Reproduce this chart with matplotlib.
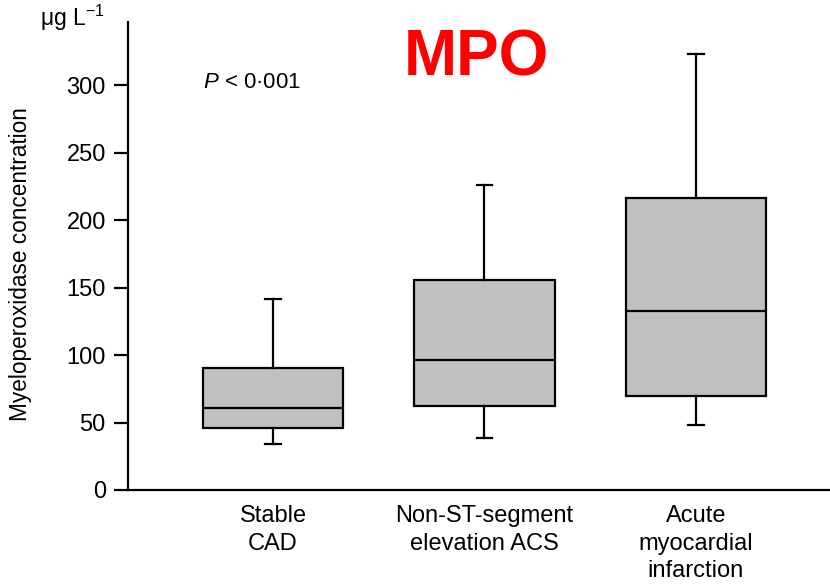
import matplotlib
matplotlib.use("Agg")
import matplotlib.pyplot as plt

plt.rcParams['font.family'] = ['Liberation Sans', 'DejaVu Sans']
plt.rcParams['mathtext.fontset'] = 'custom'
plt.rcParams['mathtext.rm'] = 'Liberation Sans'
plt.rcParams['mathtext.it'] = 'Liberation Sans:italic'

categories = ["Stable\nCAD", "Non-ST-segment\nelevation ACS", "Acute\nmyocardial\ninfarction"]
whisker_low = [34, 38.5, 48]
q1 = [46, 62, 70]
median = [60.5, 96.5, 133]
q3 = [90.5, 155.5, 216.5]
whisker_high = [141.5, 226, 323.5]
yticks = [0, 50, 100, 150, 200, 250, 300]

stats = []
for i, c in enumerate(categories):
    stats.append(dict(label=c, whislo=whisker_low[i], q1=q1[i], med=median[i],
                      q3=q3[i], whishi=whisker_high[i], fliers=[]))

fig = plt.figure(figsize=(8.3, 5.84), dpi=100)
ax = fig.add_axes([128/830, 1-490/584, 1-128/830, (490-22)/584])

lw = 1.6
ax.bxp(stats, positions=[1, 2, 3], widths=0.665, patch_artist=True,
       showfliers=False,
       boxprops=dict(facecolor='#c0c0c0', edgecolor='black', linewidth=lw),
       medianprops=dict(color='black', linewidth=lw),
       whiskerprops=dict(color='black', linewidth=lw),
       capprops=dict(color='black', linewidth=lw),
       capwidths=0.072)

ax.set_xlim(0.314, 3.634)
ax.set_ylim(0, 347)
ax.set_yticks(yticks)
ax.spines['top'].set_visible(False)
ax.spines['right'].set_visible(False)
ax.spines['left'].set_linewidth(lw)
ax.spines['bottom'].set_linewidth(lw)
ax.tick_params(axis='y', direction='out', length=10, width=lw, labelsize=17, pad=6)
ax.tick_params(axis='x', length=0, labelsize=17, pad=11)
for t in ax.get_xticklabels():
    t.set_linespacing(1.32)

fig.text(21/830, 1-264/584, "Myeloperoxidase concentration", fontsize=16.3,
         rotation=90, ha='center', va='center')
fig.text(40/830, 1-18/584, r'μg L$^{-1}$', fontsize=16.5, ha='left', va='center')
fig.text(203/830, 1-82/584, r'$\mathit{P}$ < 0·001', fontsize=16, ha='left', va='center')
fig.text(476/830, 1-58/584, 'MPO', fontsize=46, fontweight='bold', color='#ff0000',
         ha='center', va='center')

fig.savefig('out.png', dpi=100)
